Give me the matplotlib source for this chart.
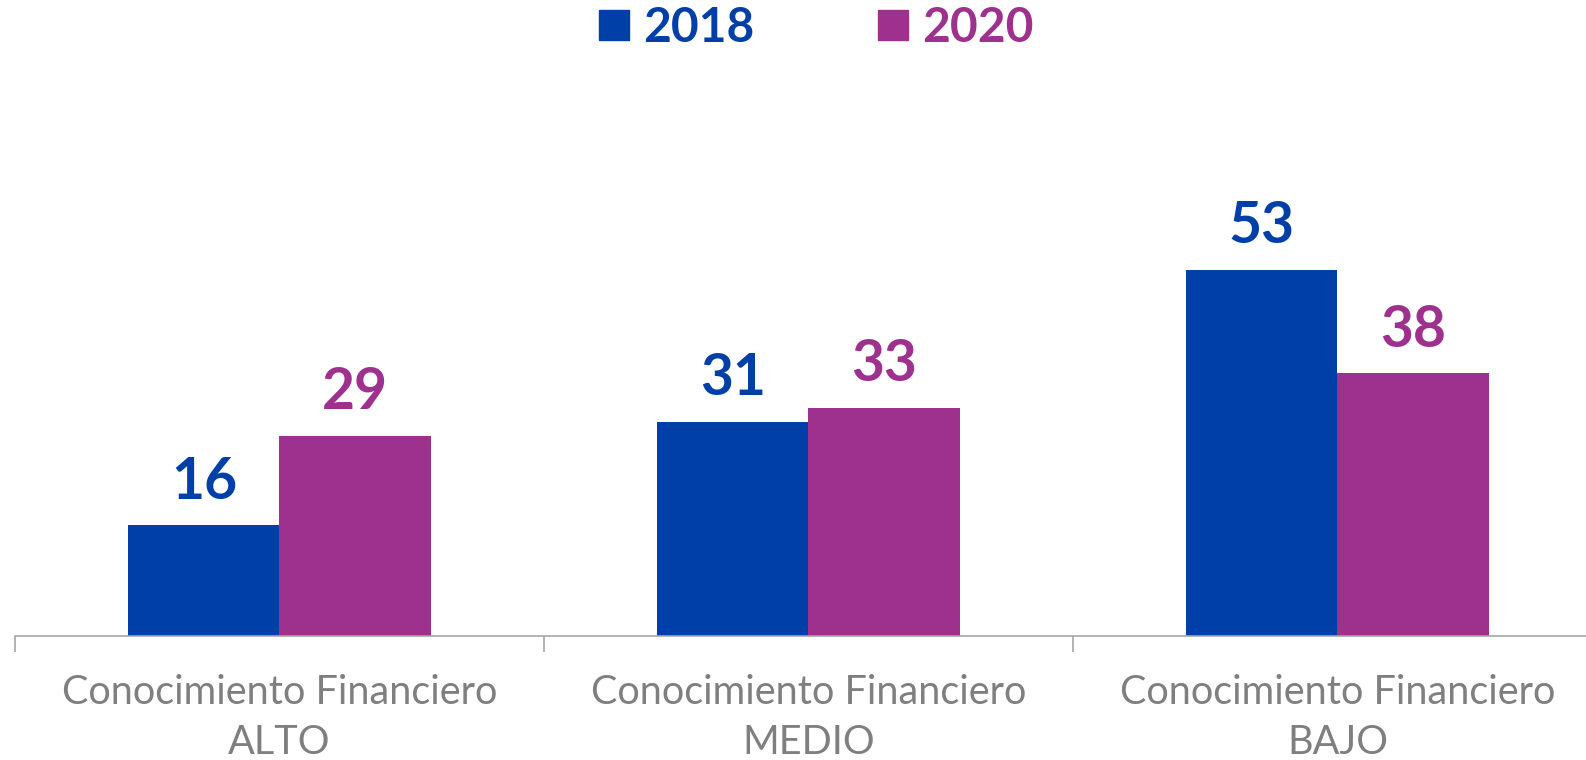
import matplotlib.pyplot as plt
from matplotlib.lines import Line2D
import numpy as np

categories = ["Conocimiento Financiero\nALTO", "Conocimiento Financiero\nMEDIO", "Conocimiento Financiero\nBAJO"]
series_names = ["2018", "2020"]
values_2018 = [16, 31, 53]
values_2020 = [29, 33, 38]

blue = "#003FA8"
purple = "#9E308E"
colors = [blue, purple]

plt.rcParams["font.family"] = ["Lato", "DejaVu Sans"]

W, H = 1586, 760
fig = plt.figure(figsize=(W / 100, H / 100), dpi=100)
# category slots are 529 px wide; the axes runs a bit past the right edge
ax = fig.add_axes([15 / W, 124 / H, 3 * 529 / W, 560 / H])

x = np.arange(len(categories))
bw = 0.286
for i, (vals, c) in enumerate(zip([values_2018, values_2020], colors)):
    pos = x + (i - 0.5) * bw
    ax.bar(pos, vals, width=bw, color=c, label=series_names[i])
    for p, v in zip(pos, vals):
        ax.annotate(str(v), (p, v), xytext=(0, 12), textcoords="offset points",
                    ha="center", va="bottom", fontsize=41, fontweight="bold", color=c)

ax.set_xlim(-0.5, 2.5)
ax.set_ylim(0, 81)
for s in ["top", "right", "left"]:
    ax.spines[s].set_visible(False)
ax.spines["bottom"].set_color("#A6A6A6")
ax.spines["bottom"].set_linewidth(1.2)
ax.set_yticks([])

ax.set_xticks([-0.5, 0.5, 1.5])
ax.set_xticklabels([])
ax.tick_params(axis="x", which="major", length=11.5, width=1.2, color="#A6A6A6")
ax.set_xticks(x, minor=True)
ax.set_xticklabels(categories, minor=True, fontsize=28.5, color="#7F7F7F", linespacing=1.45)
ax.tick_params(axis="x", which="minor", length=0, pad=27)

handles = [Line2D([], [], marker="s", linestyle="none", markersize=22, color=c) for c in colors]
leg = fig.legend(handles, series_names, loc="center", bbox_to_anchor=(814 / W, 1 - 28 / H),
                 ncol=2, frameon=False, handletextpad=0.2, columnspacing=2.5,
                 prop={"size": 34.5, "weight": "bold"}, handlelength=0.8)
for t, c in zip(leg.get_texts(), colors):
    t.set_color(c)

fig.savefig("out.png", dpi=100)
